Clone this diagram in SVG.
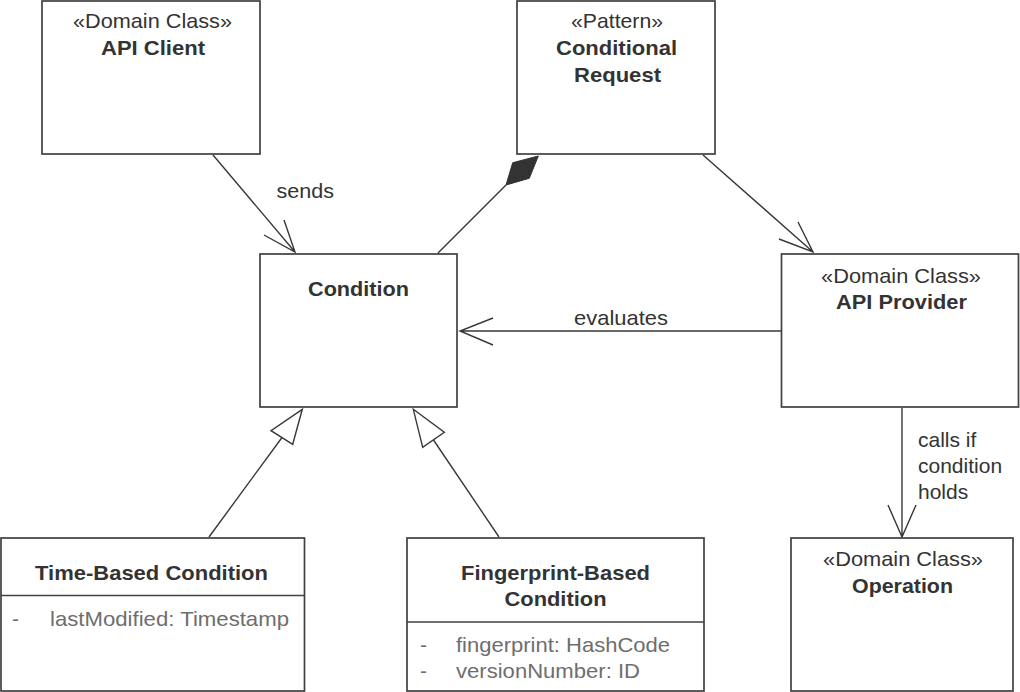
<svg xmlns="http://www.w3.org/2000/svg" width="1020" height="692" viewBox="0 0 1020 692">
<style>
.box{fill:#fff;stroke:#404040;stroke-width:1.7}
.sep{stroke:#404040;stroke-width:1.5}
.ln{fill:none;stroke:#383838;stroke-width:1.4}
.t{font-family:"Liberation Sans",Arial,sans-serif;font-size:21px;fill:#333}
.b{font-weight:bold}
.c{text-anchor:middle}
.a{fill:#6e6e6e}
</style>
<rect width="1020" height="692" fill="#fff"/>
<g id="connectors">
  <!-- sends -->
  <path class="ln" d="M213 155 L295 252 M284 220 L295 252 L264 235"/>
  <!-- composition -->
  <path class="ln" d="M438 253 L506 185"/>
  <polygon points="538.3,156 512.7,162.7 506,185 529.3,178.3" fill="#333" stroke="#333" stroke-width="1"/>
  <!-- pattern to provider -->
  <path class="ln" d="M703 155 L813 252 M798 222 L813 252 L779 239"/>
  <!-- evaluates -->
  <path class="ln" d="M781 331 L460 331 M493 318 L460 331 L493 345"/>
  <!-- calls if condition holds -->
  <path class="ln" d="M902 408 L902 537 M888 505 L902 537 L916 505"/>
  <!-- generalizations -->
  <path class="ln" d="M209 537 L282 437.5"/>
  <polygon class="ln" points="302.3,409.3 271,430.7 292.7,444.3" fill="#fff"/>
  <path class="ln" d="M499 537 L433.5 440"/>
  <polygon class="ln" points="413.3,409.3 444.3,432.3 422.7,447.3" fill="#fff"/>
  <text class="t" x="276.5" y="198" textLength="57.5" lengthAdjust="spacingAndGlyphs">sends</text>
  <text class="t" x="574" y="325" textLength="94" lengthAdjust="spacingAndGlyphs">evaluates</text>
  <text class="t" x="918" y="447">calls if</text>
  <text class="t" x="918" y="473">condition</text>
  <text class="t" x="918" y="499">holds</text>
</g>
<g id="api-client">
  <rect class="box" x="42" y="1" width="218" height="153"/>
  <text class="t c" x="152.5" y="28" textLength="159" lengthAdjust="spacingAndGlyphs">«Domain Class»</text>
  <text class="t b c" x="153" y="55" textLength="104" lengthAdjust="spacingAndGlyphs">API Client</text>
</g>
<g id="conditional-request">
  <rect class="box" x="517" y="1" width="198" height="153"/>
  <text class="t c" x="617" y="28" textLength="92" lengthAdjust="spacingAndGlyphs">«Pattern»</text>
  <text class="t b c" x="616.5" y="55" textLength="121" lengthAdjust="spacingAndGlyphs">Conditional</text>
  <text class="t b c" x="617.5" y="82" textLength="87" lengthAdjust="spacingAndGlyphs">Request</text>
</g>
<g id="condition">
  <rect class="box" x="260" y="254" width="197" height="153"/>
  <text class="t b c" x="358.5" y="296" textLength="101" lengthAdjust="spacingAndGlyphs">Condition</text>
</g>
<g id="api-provider">
  <rect class="box" x="781.5" y="254" width="237" height="153"/>
  <text class="t c" x="901" y="283" textLength="160" lengthAdjust="spacingAndGlyphs">«Domain Class»</text>
  <text class="t b c" x="901.5" y="309" textLength="131" lengthAdjust="spacingAndGlyphs">API Provider</text>
</g>
<g id="operation">
  <rect class="box" x="791" y="538" width="222" height="153"/>
  <text class="t c" x="903" y="566" textLength="160" lengthAdjust="spacingAndGlyphs">«Domain Class»</text>
  <text class="t b c" x="902.5" y="593" textLength="101" lengthAdjust="spacingAndGlyphs">Operation</text>
</g>
<g id="time-based-condition">
  <rect class="box" x="1" y="538" width="303.5" height="153"/>
  <line class="sep" x1="1" y1="595.5" x2="304.5" y2="595.5"/>
  <text class="t b c" x="151.5" y="580" textLength="233" lengthAdjust="spacingAndGlyphs">Time-Based Condition</text>
  <text class="t a" x="12" y="626">-</text>
  <text class="t a" x="50" y="626" textLength="239" lengthAdjust="spacingAndGlyphs">lastModified: Timestamp</text>
</g>
<g id="fingerprint-based-condition">
  <rect class="box" x="407" y="538" width="297" height="153"/>
  <line class="sep" x1="407" y1="622" x2="704" y2="622"/>
  <text class="t b c" x="555.5" y="580" textLength="189" lengthAdjust="spacingAndGlyphs">Fingerprint-Based</text>
  <text class="t b c" x="555.5" y="606" textLength="102" lengthAdjust="spacingAndGlyphs">Condition</text>
  <text class="t a" x="420" y="652">-</text>
  <text class="t a" x="456" y="652" textLength="214" lengthAdjust="spacingAndGlyphs">fingerprint: HashCode</text>
  <text class="t a" x="420" y="678">-</text>
  <text class="t a" x="456" y="678" textLength="184" lengthAdjust="spacingAndGlyphs">versionNumber: ID</text>
</g>
</svg>
